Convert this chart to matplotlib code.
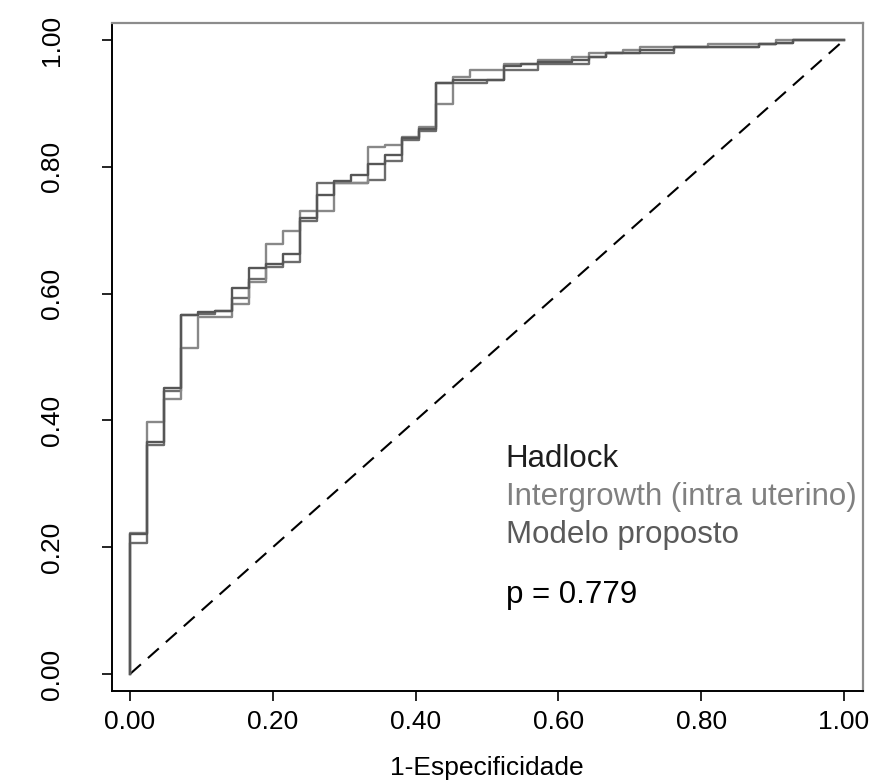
import numpy as np
import matplotlib
matplotlib.use('Agg')
import matplotlib.pyplot as plt

# --- DATA ---
# 42 controls -> the false positive rate moves in steps of 1/42
fpr = np.arange(0, 43) / 42

# sensitivity held on each of the 42 columns
sens_hadlock = [0.221, 0.366, 0.451, 0.566, 0.571, 0.573, 0.609, 0.641, 0.647, 0.662,
                0.719, 0.755, 0.778, 0.788, 0.804, 0.819, 0.845, 0.860, 0.932, 0.937,
                0.937, 0.937, 0.959, 0.963, 0.966, 0.966, 0.968, 0.974, 0.979, 0.980,
                0.984, 0.984, 0.989, 0.989, 0.989, 0.989, 0.989, 0.994, 0.995, 1.000,
                1.000, 1.000]
sens_intergrowth = [0.223, 0.398, 0.434, 0.514, 0.563, 0.563, 0.584, 0.619, 0.678, 0.699,
                    0.731, 0.731, 0.774, 0.774, 0.832, 0.835, 0.847, 0.863, 0.900, 0.942,
                    0.953, 0.953, 0.963, 0.963, 0.968, 0.968, 0.974, 0.979, 0.979, 0.984,
                    0.989, 0.989, 0.989, 0.989, 0.994, 0.994, 0.994, 0.994, 1.000, 1.000,
                    1.000, 1.000]
sens_modelo = [0.207, 0.361, 0.447, 0.566, 0.568, 0.573, 0.593, 0.623, 0.642, 0.650,
               0.715, 0.774, 0.774, 0.774, 0.779, 0.809, 0.842, 0.856, 0.932, 0.932,
               0.932, 0.937, 0.953, 0.953, 0.963, 0.963, 0.963, 0.974, 0.979, 0.980,
               0.980, 0.980, 0.989, 0.989, 0.989, 0.989, 0.989, 0.994, 0.995, 1.000,
               1.000, 1.000]

labels = ['Hadlock', 'Intergrowth (intra uterino)', 'Modelo proposto']
line_colors = ['#565656', '#888888', '#6c6c6c']
text_colors = ['#1e1e1e', '#808080', '#5a5a5a']
p_text = 'p = 0.779'

ticks = [0.0, 0.2, 0.4, 0.6, 0.8, 1.0]
tick_labels = ['0.00', '0.20', '0.40', '0.60', '0.80', '1.00']

FS_AXIS = 19
FS_LEG = 22.5

plt.rcParams['font.family'] = ['Liberation Sans', 'DejaVu Sans']

fig = plt.figure(figsize=(8.73, 7.83), dpi=100)
ax = fig.add_axes([0.1283, 0.1175, 0.8602, 0.8531])

# diagonal of chance
ax.plot([0, 1], [0, 1], color='black', lw=1.5, dashes=(7, 4.5))

for sens, col in zip([sens_modelo, sens_intergrowth, sens_hadlock],
                     [line_colors[2], line_colors[1], line_colors[0]]):
    x = np.concatenate([[0], fpr[:-1], [1]])
    y = np.concatenate([[0], sens, [sens[-1]]])
    ax.step(x, y, where='post', color=col, lw=1.7)

ax.set_xlim(-0.0252, 1.0266)
ax.set_ylim(-0.0268, 1.027)

ax.set_xticks(ticks)
ax.set_xticklabels(tick_labels)
ax.set_yticks(ticks)
ax.set_yticklabels(tick_labels, rotation=90, va='center')
ax.tick_params(direction='out', length=7.5, width=1.2, labelsize=FS_AXIS, colors='black')
ax.tick_params(axis='x', pad=6)
ax.tick_params(axis='y', pad=27)
fig.text(487 / 873, (783 - 775) / 783, '1-Especificidade', fontsize=FS_AXIS,
         ha='center', va='baseline')

for s in ['left', 'bottom']:
    ax.spines[s].set_color('black')
    ax.spines[s].set_linewidth(1.4)
for s in ['top', 'right']:
    ax.spines[s].set_color('#8c8c8c')
    ax.spines[s].set_linewidth(1.6)

# legend as text
ax.text(0.526, 0.3265, labels[0], color=text_colors[0], fontsize=FS_LEG, va='baseline')
ax.text(0.526, 0.2666, labels[1], color=text_colors[1], fontsize=FS_LEG, va='baseline')
ax.text(0.526, 0.2061, labels[2], color=text_colors[2], fontsize=FS_LEG, va='baseline')
ax.text(0.526, 0.1115, p_text, color='black', fontsize=FS_LEG, va='baseline')

fig.savefig('out.png', dpi=100)
